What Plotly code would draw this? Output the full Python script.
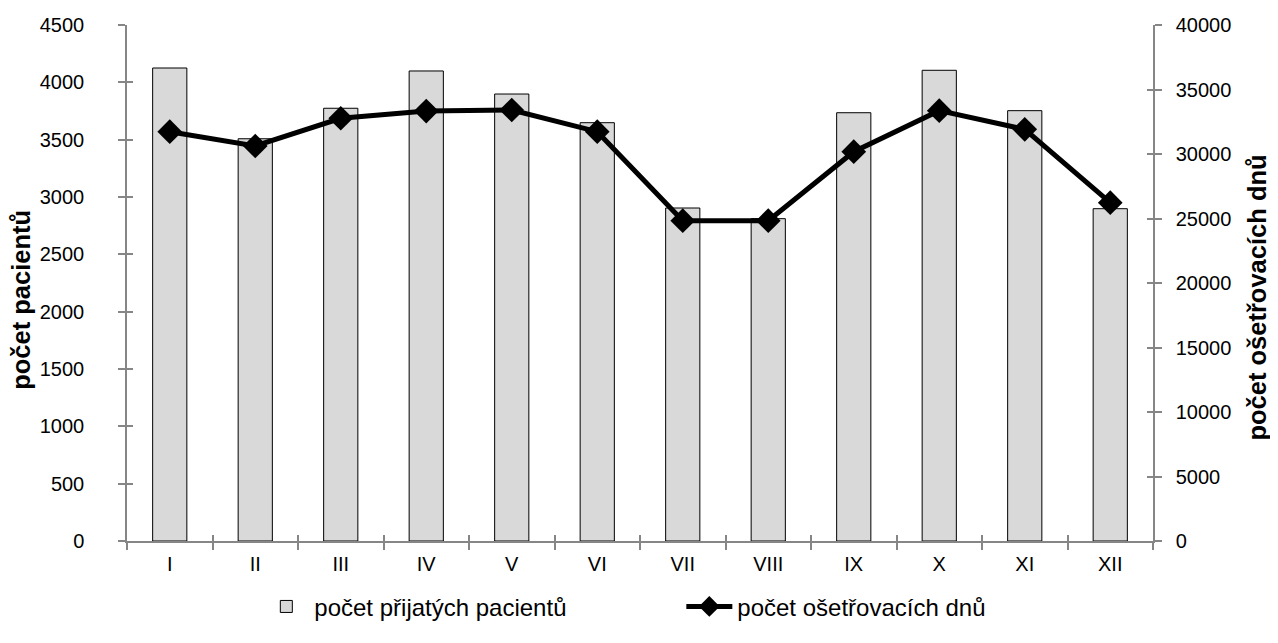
import plotly.graph_objects as go

months = ["I", "II", "III", "IV", "V", "VI", "VII", "VIII", "IX", "X", "XI", "XII"]
patients = [4125, 3508, 3774, 4099, 3898, 3648, 2904, 2811, 3735, 4105, 3753, 2898]
care_days = [31730, 30620, 32770, 33330, 33410, 31730, 24830, 24830, 30180, 33360, 31915, 26225]

left_ticks = [0, 500, 1000, 1500, 2000, 2500, 3000, 3500, 4000, 4500]
right_ticks = [0, 5000, 10000, 15000, 20000, 25000, 30000, 35000, 40000]

left_title = "počet pacientů"
right_title = "počet ošetřovacích dnů"

FONT = "Liberation Sans, Arial, sans-serif"
AX = "#868686"

fig = go.Figure()
fig.add_trace(go.Bar(
    x=months, y=patients, name="počet přijatých pacientů",
    marker=dict(color="#d9d9d9", line=dict(color="#000000", width=1)),
    width=0.4,
))
fig.add_trace(go.Scatter(
    x=months, y=care_days, name="počet ošetřovacích dnů", yaxis="y2",
    mode="lines+markers",
    line=dict(color="#000000", width=5),
    marker=dict(symbol="diamond", size=19, color="#000000"),
))
# invisible helper traces to draw inward halves of the crossing tick marks
fig.add_trace(go.Scatter(x=months, y=patients, xaxis="x2", yaxis="y3",
                         mode="markers", marker=dict(opacity=0), showlegend=False, hoverinfo="skip"))
fig.add_trace(go.Scatter(x=months, y=care_days, xaxis="x2", yaxis="y4",
                         mode="markers", marker=dict(opacity=0), showlegend=False, hoverinfo="skip"))

tickfont = dict(family=FONT, size=20, color="#000000")
titlefont = dict(family=FONT, size=25.5, color="#000000", weight="bold")

fig.update_layout(
    width=1270, height=635,
    margin=dict(l=119, r=125, t=17, b=102, autoexpand=False),
    paper_bgcolor="white", plot_bgcolor="white",
    font=dict(family=FONT, size=20, color="#000000"),
    xaxis=dict(type="category", categoryorder="array", categoryarray=months,
               range=[-0.5, 11.5], showline=True, linecolor=AX, linewidth=1.5,
               ticks="outside", tickson="boundaries", ticklen=7, tickcolor=AX, tickwidth=1.5,
               tickfont=tickfont, ticklabelstandoff=4, showgrid=False, zeroline=False,
               automargin=False),
    xaxis2=dict(type="category", categoryorder="array", categoryarray=months,
                range=[-0.5, 11.5], overlaying="x", anchor="y3", side="bottom",
                showline=False, ticks="inside", tickson="boundaries", ticklen=6,
                tickcolor=AX, tickwidth=1.5, showticklabels=False, showgrid=False, zeroline=False,
                automargin=False),
    yaxis=dict(range=[0, 4500], tickvals=left_ticks, showline=True, linecolor=AX, linewidth=1.5,
               ticks="outside", ticklen=7, tickcolor=AX, tickwidth=1.5, tickfont=tickfont,
               ticklabelstandoff=30, showgrid=False, zeroline=False, automargin=False),
    yaxis2=dict(range=[0, 40000], tickvals=right_ticks, ticktext=[str(v) for v in right_ticks],
                overlaying="y", side="right",
                showline=True, linecolor=AX, linewidth=1.5,
                ticks="outside", ticklen=7, tickcolor=AX, tickwidth=1.5, tickfont=tickfont,
                ticklabelstandoff=10, showgrid=False, zeroline=False, automargin=False),
    yaxis3=dict(range=[0, 4500], tickvals=left_ticks, overlaying="y", anchor="x2", side="left",
                showline=False, ticks="inside", ticklen=6, tickcolor=AX, tickwidth=1.5,
                showticklabels=False, showgrid=False, zeroline=False, automargin=False),
    yaxis4=dict(range=[0, 40000], tickvals=right_ticks, overlaying="y", anchor="x2", side="right",
                showline=False, ticks="inside", ticklen=6, tickcolor=AX, tickwidth=1.5,
                showticklabels=False, showgrid=False, zeroline=False, automargin=False),
    legend=dict(orientation="h", x=0.128, xanchor="left", y=-0.084, yanchor="top",
                entrywidth=362, itemwidth=46, font=dict(family=FONT, size=24, color="#000000"),
                bgcolor="rgba(0,0,0,0)", tracegroupgap=0),
    showlegend=True,
    annotations=[
        dict(text=left_title, xref="paper", yref="paper", x=-0.104, y=0.468,
             xanchor="center", yanchor="middle", textangle=-90, showarrow=False,
             borderpad=0, font=titlefont),
        dict(text=right_title, xref="paper", yref="paper", x=1.101, y=0.471,
             xanchor="center", yanchor="middle", textangle=-90, showarrow=False,
             borderpad=0, font=titlefont),
    ],
)

fig.write_html("out.html")
